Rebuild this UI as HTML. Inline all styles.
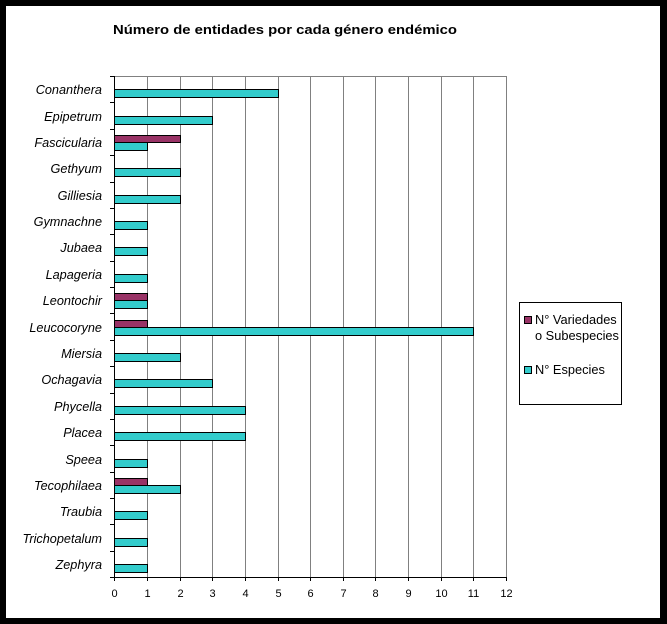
<!DOCTYPE html>
<html><head><meta charset="utf-8"><style>
html,body{margin:0;padding:0;background:#000;}
svg{display:block;}
text{font-family:"Liberation Sans",Arial,sans-serif;fill:#000;}
.lab{font-style:italic;font-size:12.7px;text-anchor:end;}
.tk{font-size:11px;text-anchor:middle;}
.lg{font-size:12.8px;}
</style></head><body>
<svg width="667" height="624" viewBox="0 0 667 624" xmlns="http://www.w3.org/2000/svg">
<rect x="0" y="0" width="667" height="624" fill="#000"/>
<rect x="6" y="6" width="654" height="612" fill="#fff"/>
<text x="113" y="34" font-size="13" font-weight="bold" textLength="344" lengthAdjust="spacingAndGlyphs">Número de entidades por cada género endémico</text>
<g shape-rendering="crispEdges">
<g stroke="#808080" stroke-width="1">
<line x1="114" y1="76.5" x2="507" y2="76.5"/>
<line x1="147.5" y1="76" x2="147.5" y2="577"/>
<line x1="180.5" y1="76" x2="180.5" y2="577"/>
<line x1="212.5" y1="76" x2="212.5" y2="577"/>
<line x1="245.5" y1="76" x2="245.5" y2="577"/>
<line x1="278.5" y1="76" x2="278.5" y2="577"/>
<line x1="310.5" y1="76" x2="310.5" y2="577"/>
<line x1="343.5" y1="76" x2="343.5" y2="577"/>
<line x1="375.5" y1="76" x2="375.5" y2="577"/>
<line x1="408.5" y1="76" x2="408.5" y2="577"/>
<line x1="441.5" y1="76" x2="441.5" y2="577"/>
<line x1="473.5" y1="76" x2="473.5" y2="577"/>
<line x1="506.5" y1="76" x2="506.5" y2="577"/>
</g>
<g stroke="#000" stroke-width="1">
<rect x="114.5" y="89.5" width="164" height="8" fill="#33CCCC"/>
<rect x="114.5" y="116.5" width="98" height="8" fill="#33CCCC"/>
<rect x="114.5" y="135.5" width="66" height="7" fill="#993366"/>
<rect x="114.5" y="142.5" width="33" height="8" fill="#33CCCC"/>
<rect x="114.5" y="168.5" width="66" height="8" fill="#33CCCC"/>
<rect x="114.5" y="195.5" width="66" height="8" fill="#33CCCC"/>
<rect x="114.5" y="221.5" width="33" height="8" fill="#33CCCC"/>
<rect x="114.5" y="247.5" width="33" height="8" fill="#33CCCC"/>
<rect x="114.5" y="274.5" width="33" height="8" fill="#33CCCC"/>
<rect x="114.5" y="293.5" width="33" height="7" fill="#993366"/>
<rect x="114.5" y="300.5" width="33" height="8" fill="#33CCCC"/>
<rect x="114.5" y="320.5" width="33" height="7" fill="#993366"/>
<rect x="114.5" y="327.5" width="359" height="8" fill="#33CCCC"/>
<rect x="114.5" y="353.5" width="66" height="8" fill="#33CCCC"/>
<rect x="114.5" y="379.5" width="98" height="8" fill="#33CCCC"/>
<rect x="114.5" y="406.5" width="131" height="8" fill="#33CCCC"/>
<rect x="114.5" y="432.5" width="131" height="8" fill="#33CCCC"/>
<rect x="114.5" y="459.5" width="33" height="8" fill="#33CCCC"/>
<rect x="114.5" y="478.5" width="33" height="7" fill="#993366"/>
<rect x="114.5" y="485.5" width="66" height="8" fill="#33CCCC"/>
<rect x="114.5" y="511.5" width="33" height="8" fill="#33CCCC"/>
<rect x="114.5" y="538.5" width="33" height="8" fill="#33CCCC"/>
<rect x="114.5" y="564.5" width="33" height="8" fill="#33CCCC"/>
</g>
<g stroke="#000" stroke-width="1">
<line x1="114.5" y1="76" x2="114.5" y2="581"/>
<line x1="110" y1="577.5" x2="507" y2="577.5"/>
<line x1="110" y1="76.5" x2="114" y2="76.5"/>
<line x1="110" y1="102.5" x2="114" y2="102.5"/>
<line x1="110" y1="129.5" x2="114" y2="129.5"/>
<line x1="110" y1="155.5" x2="114" y2="155.5"/>
<line x1="110" y1="182.5" x2="114" y2="182.5"/>
<line x1="110" y1="208.5" x2="114" y2="208.5"/>
<line x1="110" y1="234.5" x2="114" y2="234.5"/>
<line x1="110" y1="261.5" x2="114" y2="261.5"/>
<line x1="110" y1="287.5" x2="114" y2="287.5"/>
<line x1="110" y1="313.5" x2="114" y2="313.5"/>
<line x1="110" y1="340.5" x2="114" y2="340.5"/>
<line x1="110" y1="366.5" x2="114" y2="366.5"/>
<line x1="110" y1="393.5" x2="114" y2="393.5"/>
<line x1="110" y1="419.5" x2="114" y2="419.5"/>
<line x1="110" y1="445.5" x2="114" y2="445.5"/>
<line x1="110" y1="472.5" x2="114" y2="472.5"/>
<line x1="110" y1="498.5" x2="114" y2="498.5"/>
<line x1="110" y1="524.5" x2="114" y2="524.5"/>
<line x1="110" y1="551.5" x2="114" y2="551.5"/>
<line x1="147.5" y1="577" x2="147.5" y2="581"/>
<line x1="180.5" y1="577" x2="180.5" y2="581"/>
<line x1="212.5" y1="577" x2="212.5" y2="581"/>
<line x1="245.5" y1="577" x2="245.5" y2="581"/>
<line x1="278.5" y1="577" x2="278.5" y2="581"/>
<line x1="310.5" y1="577" x2="310.5" y2="581"/>
<line x1="343.5" y1="577" x2="343.5" y2="581"/>
<line x1="375.5" y1="577" x2="375.5" y2="581"/>
<line x1="408.5" y1="577" x2="408.5" y2="581"/>
<line x1="441.5" y1="577" x2="441.5" y2="581"/>
<line x1="473.5" y1="577" x2="473.5" y2="581"/>
<line x1="506.5" y1="577" x2="506.5" y2="581"/>
</g>
<rect x="519.5" y="302.5" width="102" height="102" fill="#fff" stroke="#000" stroke-width="1"/>
<rect x="524.5" y="316.5" width="7" height="7" fill="#993366" stroke="#000" stroke-width="1"/>
<rect x="524.5" y="366.5" width="7" height="7" fill="#33CCCC" stroke="#000" stroke-width="1"/>
</g>
<text class="lg" x="535" y="324">N° Variedades</text>
<text class="lg" x="535" y="340">o Subespecies</text>
<text class="lg" x="535" y="374">N° Especies</text>
<text class="lab" x="102" y="94">Conanthera</text>
<text class="lab" x="102" y="121">Epipetrum</text>
<text class="lab" x="102" y="147">Fascicularia</text>
<text class="lab" x="102" y="173">Gethyum</text>
<text class="lab" x="102" y="200">Gilliesia</text>
<text class="lab" x="102" y="226">Gymnachne</text>
<text class="lab" x="102" y="252">Jubaea</text>
<text class="lab" x="102" y="279">Lapageria</text>
<text class="lab" x="102" y="305">Leontochir</text>
<text class="lab" x="102" y="332">Leucocoryne</text>
<text class="lab" x="102" y="358">Miersia</text>
<text class="lab" x="102" y="384">Ochagavia</text>
<text class="lab" x="102" y="411">Phycella</text>
<text class="lab" x="102" y="437">Placea</text>
<text class="lab" x="102" y="464">Speea</text>
<text class="lab" x="102" y="490">Tecophilaea</text>
<text class="lab" x="102" y="516">Traubia</text>
<text class="lab" x="102" y="543">Trichopetalum</text>
<text class="lab" x="102" y="569">Zephyra</text>
<text class="tk" x="114.5" y="597">0</text>
<text class="tk" x="147.5" y="597">1</text>
<text class="tk" x="180.5" y="597">2</text>
<text class="tk" x="212.5" y="597">3</text>
<text class="tk" x="245.5" y="597">4</text>
<text class="tk" x="278.5" y="597">5</text>
<text class="tk" x="310.5" y="597">6</text>
<text class="tk" x="343.5" y="597">7</text>
<text class="tk" x="375.5" y="597">8</text>
<text class="tk" x="408.5" y="597">9</text>
<text class="tk" x="441.5" y="597">10</text>
<text class="tk" x="473.5" y="597">11</text>
<text class="tk" x="506.5" y="597">12</text>
</svg>
</body></html>
